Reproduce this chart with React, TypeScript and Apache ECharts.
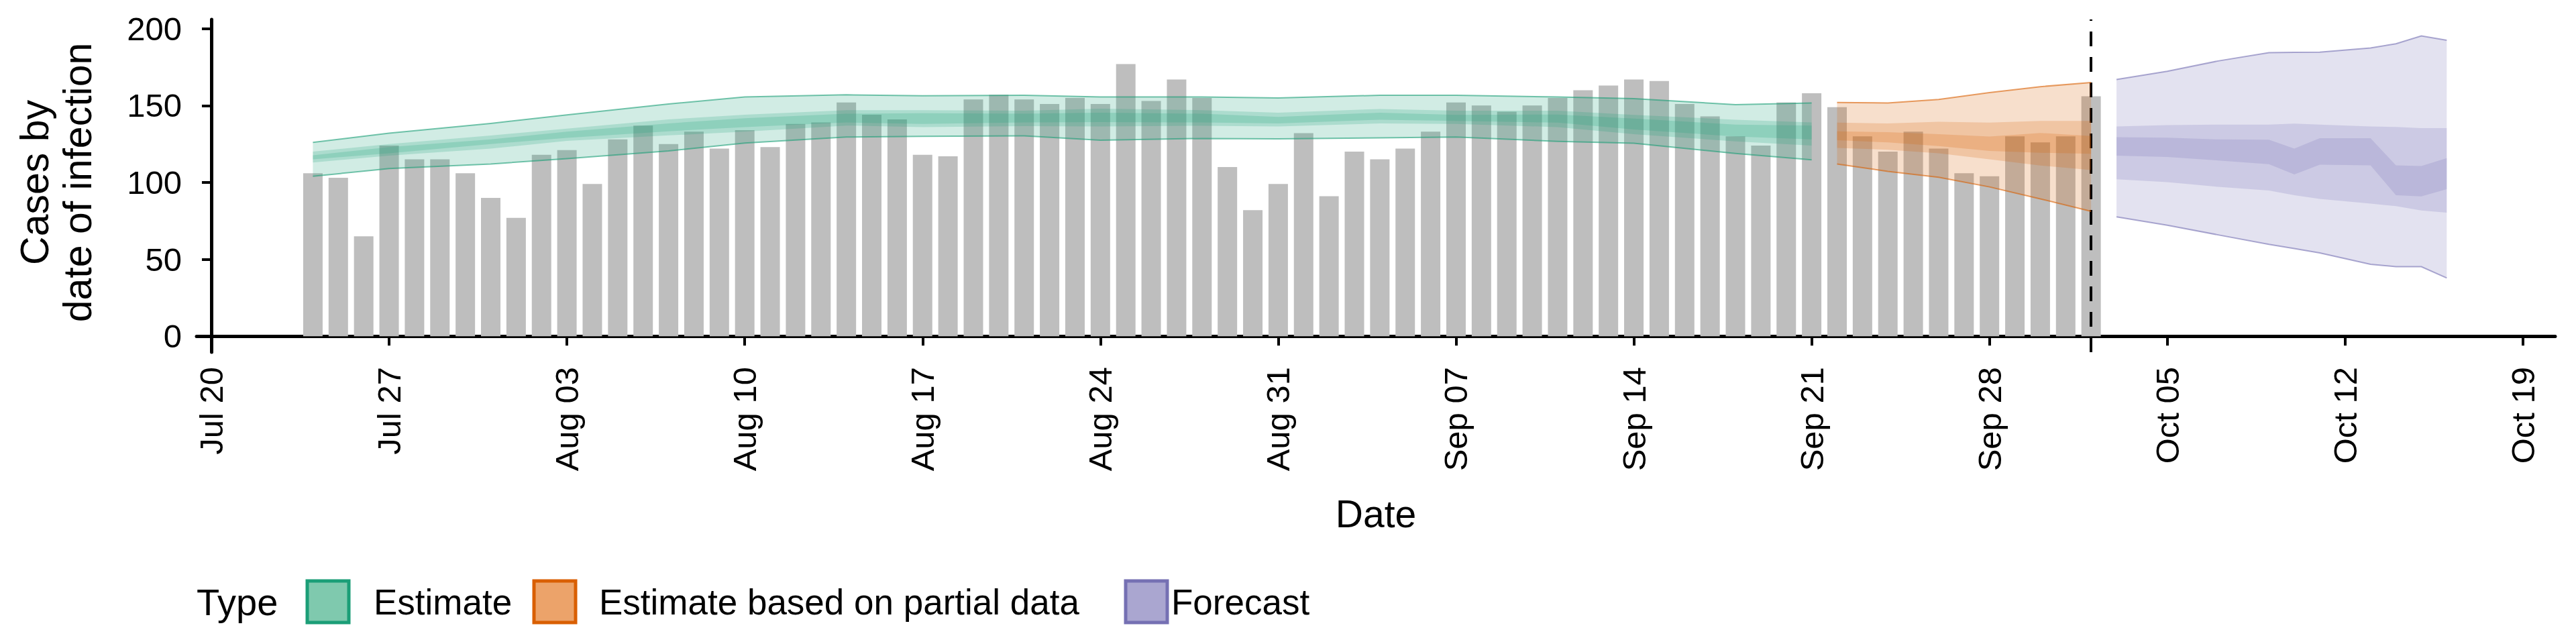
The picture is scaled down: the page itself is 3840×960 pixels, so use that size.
import React, { useEffect, useRef } from "react";
import * as echarts from "echarts";

// reported cases, one per day from Jul 24 to Oct 2
const firstCaseDay = "2020-07-24";
const cases = [
  106, 103, 65, 124, 115, 115, 106, 90, 77, 118, 121, 99, 128, 137, 125, 133, 122, 134, 123, 138,
  139, 152, 144, 141, 118, 117, 154, 157, 154, 151, 155, 151, 177, 153, 167, 155, 110, 82, 99, 132,
  91, 120, 115, 122, 133, 152, 150, 146, 150, 155, 160, 163, 167, 166, 151, 143, 130, 124, 152, 158,
  149, 130, 120, 133, 122, 106, 104, 130, 126, 130, 156,
];

const tickDays = [0, 7, 14, 21, 28, 35, 42, 49, 56, 63, 70, 77, 84, 91];
const tickLabels = [
  "Jul 20", "Jul 27", "Aug 03", "Aug 10", "Aug 17", "Aug 24", "Aug 31",
  "Sep 07", "Sep 14", "Sep 21", "Sep 28", "Oct 05", "Oct 12", "Oct 19",
];
const yTicks = [0, 50, 100, 150, 200];

// estimate bands (90%, 50%, 20%)
const estDates = [
  "2020-07-24", "2020-07-27", "2020-07-31", "2020-08-03", "2020-08-07", "2020-08-10", "2020-08-14",
  "2020-08-17", "2020-08-21", "2020-08-24", "2020-08-28", "2020-08-31", "2020-09-04", "2020-09-07",
  "2020-09-11", "2020-09-14", "2020-09-18", "2020-09-21",
];
const estOuterLo = [104, 109, 112, 115.5, 120.5, 125.6, 129.5, 130, 130.3, 127.5, 128.6, 128.3, 129, 129.5, 126.7, 125.5, 118.9, 114.7];
const estOuterHi = [126, 132, 138.4, 143.9, 151, 155.6, 157, 156.4, 156.7, 155.6, 155.6, 155, 156.7, 156.7, 155.6, 154.5, 150.6, 151.7];
const estMidLo = [113, 117.4, 122, 127, 130.6, 133, 137, 136, 136.6, 136.4, 136.9, 136.4, 138.4, 138, 136, 131.4, 126.7, 124];
const estMidHi = [120, 125, 130.5, 135, 141, 144, 147, 147, 146.7, 148, 147, 145.4, 147.8, 146.7, 146.7, 143.9, 140.8, 139];
const estInLo = [115, 119, 125, 129, 133.3, 136, 139, 138, 139, 139.2, 139, 138.4, 140.8, 140, 138.9, 134.5, 129.9, 128];
const estInHi = [117.7, 123, 128, 133, 138.4, 141.8, 144.7, 145, 144.7, 145.4, 144.7, 142.6, 145.4, 143.9, 144.2, 141.5, 137.6, 137];

// estimate based on partial data
const partDates = ["2020-09-22", "2020-09-24", "2020-09-26", "2020-09-28", "2020-09-30", "2020-10-02"];
const partOuterLo = [112, 107.2, 103.4, 97.1, 89.3, 81.2];
const partOuterHi = [152, 151.7, 154, 158.4, 162.3, 165];
const partMidLo = [122.5, 121.3, 119, 115, 111, 108];
const partMidHi = [138.9, 138.4, 139.5, 138.9, 140, 140];
const partInLo = [127.5, 126, 123.6, 120.5, 119.3, 118.6];
const partInHi = [133.3, 132.7, 131.4, 129.9, 132.2, 130.2];

// forecast
const fcDates = [
  "2020-10-03", "2020-10-05", "2020-10-07", "2020-10-09", "2020-10-10", "2020-10-11",
  "2020-10-13", "2020-10-14", "2020-10-15", "2020-10-16",
];
const fcOuterLo = [77.6, 72.2, 65.9, 59.7, 57, 54.2, 46.8, 45.2, 45.2, 37.9];
const fcOuterHi = [167, 172.3, 179, 184.4, 184.6, 184.7, 187.5, 190.2, 195.3, 192.5];
const fcMidLo = [102.1, 100.2, 97.1, 94.8, 91.7, 89.3, 86.2, 84.6, 81.8, 80.3];
const fcMidHi = [136.4, 137.3, 137.6, 137.6, 138.3, 137.6, 136.4, 136.1, 135.3, 135.3];
const fcInLo = [117.4, 116.6, 114.3, 111.9, 105.2, 111.5, 111.1, 91.7, 90.9, 95.6];
const fcInHi = [129.4, 129.1, 128, 127.8, 122, 128.8, 128.8, 111.1, 110.7, 115.8];

const dataCutoff = "2020-10-02";

const origin = Date.UTC(2020, 6, 20);
const dayOf = (s: string) => Math.round((Date.parse(s + "T00:00:00Z") - origin) / 86400000);

const FONT = "Liberation Sans";

const band = (dates: string[], lo: number[], hi: number[], color: string, outline: boolean) => {
  const xs = dates.map(dayOf);
  return {
    type: "custom",
    z: 5,
    silent: true,
    data: xs.map((x, i) => [x, lo[i], hi[i]]),
    encode: { x: 0, y: [1, 2] },
    renderItem: (params: any, api: any) => {
      if (params.dataIndex !== 0) return null;
      const top = xs.map((x, i) => api.coord([x, hi[i]]));
      const bot = xs.map((x, i) => api.coord([x, lo[i]])).reverse();
      const children: any[] = [
        { type: "polygon", shape: { points: [...top, ...bot] }, style: { fill: color, opacity: 0.2 } },
      ];
      if (outline) {
        children.push({ type: "polyline", shape: { points: top }, style: { stroke: color, lineWidth: 2, fill: "none", opacity: 0.6 } });
        children.push({ type: "polyline", shape: { points: bot.slice().reverse() }, style: { stroke: color, lineWidth: 2, fill: "none", opacity: 0.6 } });
      }
      return { type: "group", children };
    },
  };
};

const legendItems = [
  { name: "Estimate", fill: "#7fc9ae", stroke: "#1b9e77", x: 458, tx: 557 },
  { name: "Estimate based on partial data", fill: "#eca36a", stroke: "#d95f02", x: 796, tx: 893 },
  { name: "Forecast", fill: "#aaa6d0", stroke: "#7570b3", x: 1678, tx: 1746 },
];

const App = () => {
  const chartRef = useRef<HTMLDivElement>(null);

  useEffect(() => {
    if (!chartRef.current) return;
    const chart = echarts.init(chartRef.current, null, { renderer: "svg" });
    const start = dayOf(firstCaseDay);
    const G = "#1b9e77", O = "#d95f02", P = "#7570b3";

    const graphic: any[] = [
      {
        type: "text", x: 84, y: 272, rotation: Math.PI / 2,
        style: { text: "Cases by\ndate of infection", font: `59px '${FONT}'`, fill: "#000", align: "center", verticalAlign: "middle", lineHeight: 64 },
      },
      { type: "text", x: 293, y: 897, style: { text: "Type", font: `56px '${FONT}'`, fill: "#000", verticalAlign: "middle" } },
    ];
    legendItems.forEach((it) => {
      graphic.push({ type: "rect", shape: { x: it.x, y: 866, width: 62, height: 62 }, style: { fill: it.fill, stroke: it.stroke, lineWidth: 5 } });
      graphic.push({ type: "text", x: it.tx, y: 897, style: { text: it.name, font: `53px '${FONT}'`, fill: "#000", verticalAlign: "middle" } });
    });

    chart.setOption({
      animation: false,
      grid: { left: 293, right: 31, top: 29, bottom: 435 },
      xAxis: {
        type: "value",
        min: -0.58,
        max: 92.27,
        name: "Date",
        nameLocation: "middle",
        nameGap: 212,
        nameTextStyle: { fontFamily: FONT, fontSize: 57, color: "#000" },
        splitLine: { show: false },
        axisLine: { lineStyle: { color: "#000", width: 5 } },
        axisTick: { length: 14, lineStyle: { color: "#000", width: 4 }, customValues: tickDays },
        axisLabel: {
          customValues: tickDays,
          rotate: 90,
          margin: 22,
          fontFamily: FONT,
          fontSize: 49,
          color: "#000",
          formatter: (v: number) => tickLabels[tickDays.indexOf(Math.round(v))] ?? "",
        },
      },
      yAxis: {
        type: "value",
        min: -10.4,
        max: 206,
        splitLine: { show: false },
        axisLine: { show: true, lineStyle: { color: "#000", width: 5 } },
        axisTick: { show: true, length: 14, lineStyle: { color: "#000", width: 4 }, customValues: yTicks },
        axisLabel: { customValues: yTicks, margin: 22, fontFamily: FONT, fontSize: 49, color: "#000" },
      },
      graphic,
      series: [
        {
          type: "bar",
          barWidth: 29,
          itemStyle: { color: "#bebebe" },
          data: cases.map((c, i) => [start + i, c]),
          markLine: {
            silent: true,
            symbol: "none",
            label: { show: false },
            lineStyle: { color: "#000", width: 4, type: [22, 16] },
            data: [{ xAxis: dayOf(dataCutoff) }],
          },
        },
        band(estDates, estOuterLo, estOuterHi, G, true),
        band(estDates, estMidLo, estMidHi, G, false),
        band(estDates, estInLo, estInHi, G, false),
        band(partDates, partOuterLo, partOuterHi, O, true),
        band(partDates, partMidLo, partMidHi, O, false),
        band(partDates, partInLo, partInHi, O, false),
        band(fcDates, fcOuterLo, fcOuterHi, P, true),
        band(fcDates, fcMidLo, fcMidHi, P, false),
        band(fcDates, fcInLo, fcInHi, P, false),
      ],
    });
    return () => chart.dispose();
  }, []);

  return <div ref={chartRef} style={{ width: 3840, height: 960, margin: -8 }} />;
};

export default App;
